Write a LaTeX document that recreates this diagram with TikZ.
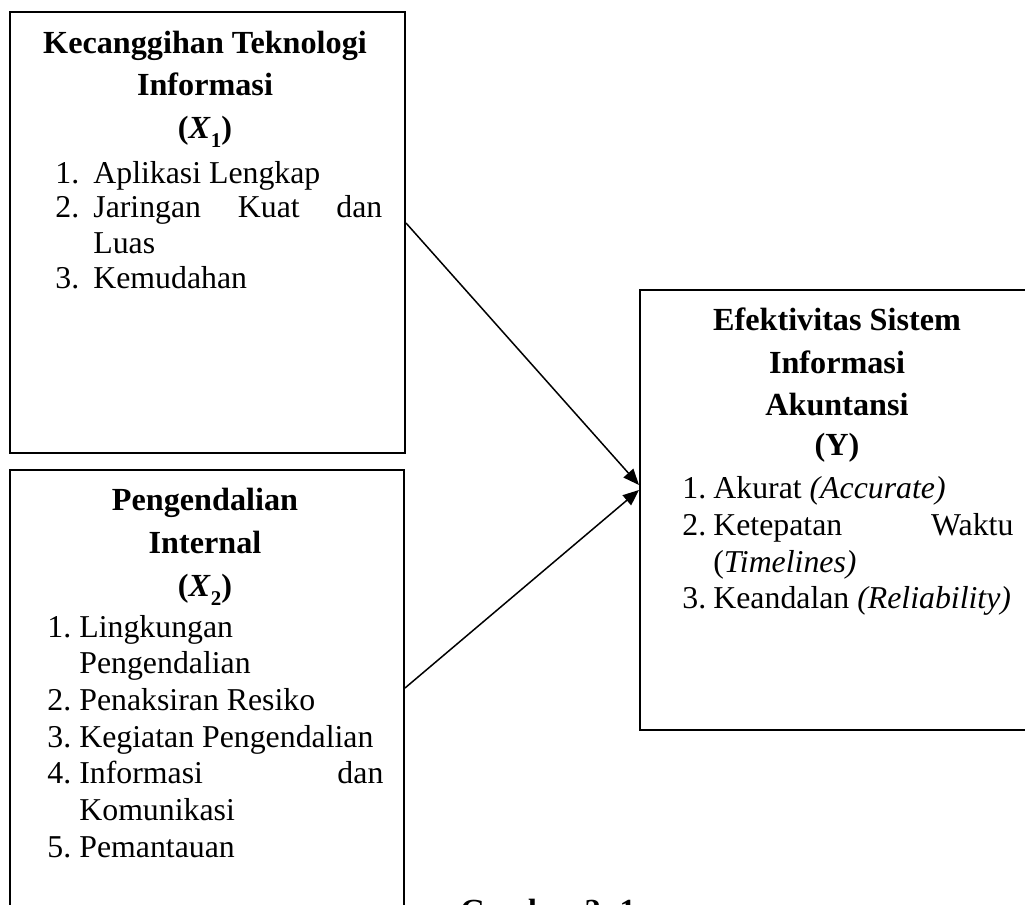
\documentclass[tikz,border=0pt]{standalone}
\usepackage{fontspec}
\setmainfont{Liberation Serif}
\usetikzlibrary{arrows.meta}
\newcommand{\subbf}[1]{\raisebox{-0.28em}{\fontsize{10.5}{12}\selectfont\bfseries #1}}
\tikzset{
  box/.style={draw, line width=1pt, inner sep=0pt, rectangle},
  txt/.style={inner sep=0pt, anchor=base west, font=\fontsize{15.9}{18}\selectfont},
  hd/.style={inner sep=0pt, anchor=base, font=\fontsize{16.1}{18}\selectfont\bfseries},
  conn/.style={line width=0.75pt, -{Triangle[length=8pt,width=6.5pt]}}
}
\begin{document}
\begin{tikzpicture}[x=0.5pt,y=-0.5pt]
\useasboundingbox (0,0) rectangle (1025,905);
\clip (0,0) rectangle (1025,905);
\fill[white] (0,0) rectangle (1025,905);
% boxes
\node[box, minimum width=197.5pt, minimum height=220.5pt] (b1) at (207.5,232.5) {};
\node[box, minimum width=197pt, minimum height=245pt] (b2) at (207,715) {};
\node[box, minimum width=200pt, minimum height=220pt] (b3) at (840,510) {};
% box 1 text
\node[hd] (h1a) at (205,53) {Kecanggihan Teknologi};
\node[hd] (h1b) at (205,95) {Informasi};
\node[hd] (h1c) at (205,138) {(\textit{X}\subbf{1})};
\node[txt] (n1a) at (55,183) {1.};
\node[txt] (l1a) at (93,183) {Aplikasi Lengkap};
\node[txt] (n1b) at (55,217) {2.};
\node[txt] (l1b) at (93,217) {\makebox[144.5pt][s]{Jaringan\hfill Kuat\hfill dan}};
\node[txt] (l1c) at (93,253) {Luas};
\node[txt] (n1c) at (55,288) {3.};
\node[txt] (l1d) at (93,288) {Kemudahan};
% box 2 text
\node[hd] (h2a) at (205,510) {Pengendalian};
\node[hd] (h2b) at (205,553) {Internal};
\node[hd] (h2c) at (205,596) {(\textit{X}\subbf{2})};
\node[txt] (n2a) at (47,637) {1.};
\node[txt] (l2a) at (79,637) {Lingkungan};
\node[txt] (l2b) at (79,673) {Pengendalian};
\node[txt] (n2b) at (47,710) {2.};
\node[txt] (l2c) at (79,710) {Penaksiran Resiko};
\node[txt] (n2c) at (47,747) {3.};
\node[txt] (l2d) at (79,747) {Kegiatan Pengendalian};
\node[txt] (n2d) at (47,783) {4.};
\node[txt] (l2e) at (79,783) {\makebox[152pt][s]{Informasi\hfill dan}};
\node[txt] (l2f) at (79,820) {Komunikasi};
\node[txt] (n2e) at (47,857) {5.};
\node[txt] (l2g) at (79,857) {Pemantauan};
% box 3 text
\node[hd] (h3a) at (837,330) {Efektivitas Sistem};
\node[hd] (h3b) at (837,373) {Informasi};
\node[hd] (h3c) at (837,415) {Akuntansi};
\node[hd] (h3d) at (837,455) {(Y)};
\node[txt] (n3a) at (682,498) {1.};
\node[txt] (l3a) at (713,498) {Akurat \textit{(Accurate)}};
\node[txt] (n3b) at (682,535) {2.};
\node[txt] (l3b) at (713,535) {\makebox[150pt][s]{Ketepatan\hfill Waktu}};
\node[txt] (l3c) at (713,572) {(\textit{Timelines)}};
\node[txt] (n3c) at (682,608) {3.};
\node[txt] (l3d) at (713,608) {Keandalan \textit{(Reliability)}};
% caption (cut off by the page edge, as in the reference)
\node[inner sep=0pt, anchor=base west, font=\fontsize{16.1}{18}\selectfont\bfseries] (cap) at (460,921) {Gambar 2. 1};
% connectors
\draw[conn] ([yshift=4.75pt]b1.east) -- ([yshift=12.5pt]b3.west);
\draw[conn] ([yshift=13.5pt]b2.east) -- ([yshift=10pt]b3.west);
\end{tikzpicture}
\end{document}
